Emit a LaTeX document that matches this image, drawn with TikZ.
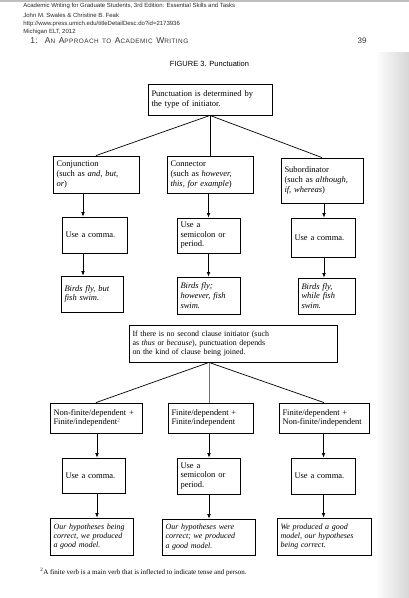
\documentclass[tikz,border=0pt]{standalone}
\usepackage{fontspec}
\setmainfont{Liberation Serif}
\newfontfamily\hdrfont{Liberation Sans}
\newfontfamily\chapfont[LetterSpace=7]{Liberation Sans}
\usetikzlibrary{arrows.meta, positioning}

\newcommand{\fsc}[2]{{\fontsize{8.5}{9}\selectfont #1}{\fontsize{6.4}{7}\selectfont #2}}

\tikzset{
  pbox/.style={draw, line width=0.85pt, inner xsep=3.5pt, inner ysep=1pt, align=left,
    font=\fontsize{8.5}{9.6}\selectfont},
  hdr/.style={anchor=west, inner sep=0pt, text=black!85,
    font=\hdrfont\fontsize{6}{7}\selectfont},
}

\begin{document}
\begin{tikzpicture}[x=1pt, y=-1pt, >={Latex[length=4.5pt,width=3.8pt]}, line width=0.7pt]
\useasboundingbox (0,0) rectangle (409,598);

% page edge and shaded margin
\fill[black!25] (0,0) rectangle (409,1.5);
\shade[left color=white, right color=black!16] (375,52) rectangle (409,598);

% source header
\node[hdr] (src1) at (23,6) {Academic Writing for Graduate Students, 3rd Edition: Essential Skills and Tasks};
\node[hdr] (src2) at (23,15) {John M. Swales \& Christine B. Feak};
\node[hdr] (src3) at (23,24) {http://www.press.umich.edu/titleDetailDesc.do?id=2173936};
\node[hdr] (src4) at (23,32) {Michigan ELT, 2012};
\node[anchor=west, inner sep=0pt, text=black!80, font=\chapfont] (chap) at (30,41)
  {\fsc{1:}{}\ \ \fsc{A}{N} \fsc{A}{PPROACH} \fsc{}{TO} \fsc{A}{CADEMIC} \fsc{W}{RITING}};
\node[inner sep=0pt, text=black!80, font=\hdrfont\fontsize{8}{9}\selectfont] (page) at (362,41) {39};
\node[inner sep=0pt, font=\hdrfont\fontsize{7.5}{9}\selectfont] (title) at (209.5,64) {FIGURE 3. Punctuation};

% first tree: type of initiator
\node[pbox, text width=117pt, minimum height=31pt] (init) at (210,99.5)
  {Punctuation is determined by\\the type of initiator.};

\node[pbox, text width=79pt, minimum height=37pt] (conj) at (96,174.5)
  {Conjunction\\(such as \textit{and, but,}\\\textit{or})};
\node[pbox, text width=79pt, minimum height=37pt] (conn) at (210,174.5)
  {Connector\\(such as \textit{however,}\\\textit{this, for example})};
\node[pbox, text width=75pt, minimum height=45pt] (subord) at (322,180.5)
  {Subordinator\\(such as \textit{although,}\\\textit{if, whereas})};

\node[pbox, text width=58pt, minimum height=36pt] (comma1) at (94.5,235) {Use a comma.};
\node[pbox, text width=56pt, minimum height=35pt] (semi1) at (208.5,235.5) {Use a\\semicolon or\\period.};
\node[pbox, text width=57pt, minimum height=39pt] (comma2) at (323,237.5) {Use a comma.};

\node[pbox, text width=55pt, minimum height=36pt] (ex1) at (92,294)
  {\textit{Birds fly, but}\\\textit{fish swim.}};
\node[pbox, text width=56pt, minimum height=37pt] (ex2) at (208.5,295.5)
  {\textit{Birds fly;}\\\textit{however, fish}\\\textit{swim.}};
\node[pbox, text width=50pt, minimum height=36pt] (ex3) at (326.5,296)
  {\textit{Birds fly,}\\\textit{while fish}\\\textit{swim.}};

% second tree: kind of clause
\node[pbox, text width=201pt, minimum height=37pt, font=\fontsize{7.9}{9.2}\selectfont] (kind) at (233,343.5)
  {If there is no second clause initiator (such\\as \textit{thus} or \textit{because}), punctuation depends\\on the kind of clause being joined.};

\node[pbox, text width=85pt, minimum height=30pt] (fin1) at (96,418)
  {Non-finite/dependent +\\Finite/independent\textsuperscript{\color{black!60}2}};
\node[pbox, text width=78pt, minimum height=30pt] (fin2) at (210.5,418)
  {Finite/dependent +\\Finite/independent};
\node[pbox, text width=83pt, minimum height=30pt] (fin3) at (324,418)
  {Finite/dependent +\\Non-finite/independent};

\node[pbox, text width=56pt, minimum height=35pt] (comma3) at (93.5,475.5) {Use a comma.};
\node[pbox, text width=56pt, minimum height=36pt] (semi2) at (208.5,476) {Use a\\semicolon or\\period.};
\node[pbox, text width=57pt, minimum height=36pt] (comma4) at (323,476) {Use a comma.};

\node[pbox, text width=76pt, minimum height=37pt, font=\fontsize{8}{9.4}\selectfont] (res1) at (91.5,536.5)
  {\textit{Our hypotheses being}\\\textit{correct, we produced}\\\textit{a good model.}};
\node[pbox, text width=86pt, minimum height=36pt, font=\fontsize{8}{9.4}\selectfont] (res2) at (208.5,537)
  {\textit{Our hypotheses were}\\\textit{correct; we produced}\\\textit{a good model.}};
\node[pbox, text width=87pt, minimum height=37pt, font=\fontsize{8}{9.4}\selectfont] (res3) at (324,536.5)
  {\textit{We produced a good}\\\textit{model, our hypotheses}\\\textit{being correct.}};

\node[anchor=west, inner sep=0pt, font=\fontsize{7}{8}\selectfont] (note) at (40,572)
  {\textsuperscript{2}A finite verb is a main verb that is inflected to indicate tense and person.};

% arrow columns
\coordinate (colA) at (83,0);
\coordinate (colB) at (208.5,0);
\coordinate (colC) at (324,0);
\coordinate (colD) at (97,0);
\coordinate (colE) at (209,0);
\coordinate (colF) at (323.5,0);

% branches
\draw (init.south) -- (conj.north);
\draw (init.south) -- (conn.north);
\draw (init.south) -- (subord.north);

\coordinate (split) at (kind.south -| colE);
\draw (split) -- (fin1.north);
\draw[black!55] (split) -- (fin2.north -| colE);
\draw (split) -- (fin3.north);

% downward arrows
\draw[->] (conj.south -| colA) -- (comma1.north -| colA);
\draw[->] (conn.south -| colB) -- (semi1.north -| colB);
\draw[->] (subord.south -| colC) -- (comma2.north -| colC);
\draw[->] (comma1.south -| colA) -- (ex1.north -| colA);
\draw[->] (semi1.south -| colB) -- (ex2.north -| colB);
\draw[->] (comma2.south -| colC) -- (ex3.north -| colC);

\draw[->] (fin1.south -| colD) -- (comma3.north -| colD);
\draw[->] (fin2.south -| colE) -- (semi2.north -| colE);
\draw[->] (fin3.south -| colF) -- (comma4.north -| colF);
\draw[->] (comma3.south -| colD) -- (res1.north -| colD);
\draw[->] (semi2.south -| colE) -- (res2.north -| colE);
\draw[->] (comma4.south -| colF) -- (res3.north -| colF);
\end{tikzpicture}
\end{document}
